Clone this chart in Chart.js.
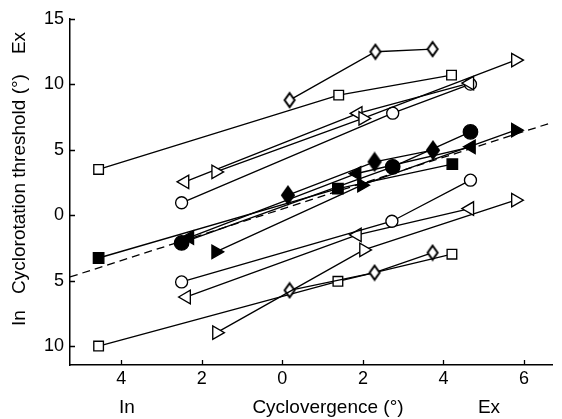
<!DOCTYPE html>
<html>
<head>
<meta charset="utf-8">
<script src="https://cdn.jsdelivr.net/npm/chart.js@4.4.1/dist/chart.umd.min.js"></script>
<style>
  html, body { margin: 0; padding: 0; background: #fff; }
  #wrap { width: 562px; height: 419px; }
</style>
</head>
<body>
<div id="wrap"><canvas id="chart" width="562" height="419"></canvas></div>
<script>
// x = cyclovergence (neg = In), y = cyclorotation threshold (neg = In)
const xTicks = [-4, -2, 0, 2, 4, 6]
const yTicks = [-10, -5, 0, 5, 10, 15]

// upper (Ex) thresholds
const openDiamondEx = [[0.18, 8.8], [2.31, 12.5], [3.73, 12.7]]
const openSquareEx = [[-4.56, 3.5], [1.4, 9.18], [4.2, 10.71]]
const openRightEx = [[-1.65, 3.31], [2.0, 7.4], [5.79, 11.86]]
const openLeftEx = [[-2.42, 2.55], [1.88, 7.78], [4.65, 10.1]]
const openCircleEx = [[-2.5, 0.95], [2.74, 7.8], [4.67, 10.02]]

// middle (filled) series
const fillDiamond = [[0.14, 1.53], [2.29, 4.08], [3.74, 4.97]]
const fillSquare = [[-4.56, -3.27], [1.38, 2.04], [4.22, 3.9]]
const fillCircle = [[-2.5, -2.12], [2.74, 3.7], [4.67, 6.37]]
const fillRight = [[-1.65, -2.8], [1.97, 2.3], [5.79, 6.5]]
const fillLeft = [[-2.3, -1.7], [1.85, 3.19], [4.69, 5.23]]

// lower (In) thresholds
const openCircleIn = [[-2.5, -5.1], [2.72, -0.46], [4.67, 2.68]]
const openLeftIn = [[-2.38, -6.25], [1.86, -1.5], [4.65, 0.51]]
const openRightIn = [[-1.63, -8.98], [2.02, -2.65], [5.79, 1.15]]
const openDiamondIn = [[0.18, -5.74], [2.29, -4.39], [3.73, -2.86]]
const openSquareIn = [[-4.56, -10.0], [1.38, -5.05], [4.21, -2.98]]

// dashed reference line
const fitLine = [[-5.27, -4.72], [6.71, 7.1]]

const FONT = '"Liberation Sans", Arial, sans-serif'

function diamondCanvas(w, h, filled) {
    const c = document.createElement('canvas')
    c.width = w + 4
    c.height = h + 4
    const g = c.getContext('2d')
    const cx = c.width / 2, cy = c.height / 2
    g.beginPath()
    g.moveTo(cx, 2)
    g.lineTo(cx + w / 2, cy)
    g.lineTo(cx, cy + h / 2)
    g.lineTo(cx - w / 2, cy)
    g.closePath()
    g.fillStyle = filled ? '#000' : '#fff'
    g.fill()
    g.lineWidth = 2
    g.strokeStyle = '#000'
    g.stroke()
    return c
}

const openDiamond = diamondCanvas(10, 14, false)
const solidDiamond = diamondCanvas(12, 17, true)

function series(data, style, filled, radius, rotation = 0) {
    return {
        data: data,
        showLine: true,
        borderColor: '#000',
        borderWidth: 1.35,
        pointStyle: style,
        pointRadius: radius,
        pointRotation: rotation,
        pointBackgroundColor: filled ? '#000' : '#fff',
        pointBorderColor: '#000',
        pointBorderWidth: 1.35,
        order: 1
    }
}

const datasets = [
    series(openDiamondEx, openDiamond, false, 7),
    series(openSquareEx, 'rect', false, 6.8),
    series(openRightEx, 'triangle', false, 7.8, 90),
    series(openLeftEx, 'triangle', false, 7.8, -90),
    series(openCircleEx, 'circle', false, 6),
    series(fillSquare, 'rect', true, 7.4),
    series(fillRight, 'triangle', true, 7.8, 90),
    series(fillLeft, 'triangle', true, 7.8, -90),
    series(fillCircle, 'circle', true, 7.2),
    series(fillDiamond, solidDiamond, true, 8),
    series(openCircleIn, 'circle', false, 6),
    series(openLeftIn, 'triangle', false, 7.8, -90),
    series(openRightIn, 'triangle', false, 7.8, 90),
    series(openDiamondIn, openDiamond, false, 7),
    series(openSquareIn, 'rect', false, 6.8),
    {
        data: fitLine,
        showLine: true,
        borderColor: '#000',
        borderWidth: 1.3,
        borderDash: [8, 5],
        pointRadius: 0,
        order: 100
    }
]

// inward tick marks + axis titles
const extras = {
    id: 'extras',
    afterDraw(chart) {
        const ctx = chart.ctx
        const xs = chart.scales.x
        const ys = chart.scales.y
        const area = chart.chartArea
        ctx.save()
        ctx.strokeStyle = '#000'
        ctx.lineWidth = 1.3
        ctx.beginPath()
        xTicks.forEach(v => {
            const px = Math.round(xs.getPixelForValue(v)) + 0.5
            ctx.moveTo(px, area.bottom)
            ctx.lineTo(px, area.bottom - 5)
        })
        yTicks.forEach(v => {
            const py = Math.round(ys.getPixelForValue(v)) + 0.5
            ctx.moveTo(area.left, py)
            ctx.lineTo(area.left + 5, py)
        })
        ctx.stroke()

        ctx.fillStyle = '#000'
        ctx.font = '19px ' + FONT
        ctx.textAlign = 'center'
        ctx.textBaseline = 'middle'
        ctx.fillText('In', 127, 408)
        ctx.fillText('Cyclovergence (°)', 328, 408)
        ctx.fillText('Ex', 489, 408)

        ctx.translate(20, 0)
        ctx.rotate(-Math.PI / 2)
        ctx.fillText('Ex', -43, 0)
        ctx.fillText('Cyclorotation threshold (°)', -184, 0)
        ctx.fillText('In', -318, 0)
        ctx.restore()
    }
}

const chart = new Chart(document.getElementById('chart').getContext('2d'), {
    type: 'scatter',
    data: { datasets: datasets },
    options: {
        responsive: false,
        animation: false,
        layout: { padding: { left: 0, right: 1, top: 19, bottom: 0 } },
        plugins: {
            legend: { display: false },
            tooltip: { enabled: false }
        },
        scales: {
            x: {
                type: 'linear',
                min: -5.27,
                max: 6.71,
                afterBuildTicks: s => { s.ticks = xTicks.map(v => ({ value: v })) },
                afterFit: s => { s.height = 54 },
                grid: { display: false, drawTicks: false },
                border: { display: true, color: '#000', width: 1.5 },
                ticks: {
                    callback: v => Math.abs(v),
                    color: '#000',
                    font: { family: FONT, size: 18 },
                    padding: 3,
                    maxRotation: 0,
                    autoSkip: false
                }
            },
            y: {
                type: 'linear',
                min: -11.45,
                max: 15,
                afterBuildTicks: s => { s.ticks = yTicks.map(v => ({ value: v })) },
                afterFit: s => { s.width = 70 },
                grid: { display: false, drawTicks: false },
                border: { display: true, color: '#000', width: 1.5 },
                ticks: {
                    callback: v => Math.abs(v),
                    color: '#000',
                    font: { family: FONT, size: 18 },
                    padding: 6,
                    autoSkip: false
                }
            }
        }
    },
    plugins: [extras]
})
</script>
</body>
</html>
